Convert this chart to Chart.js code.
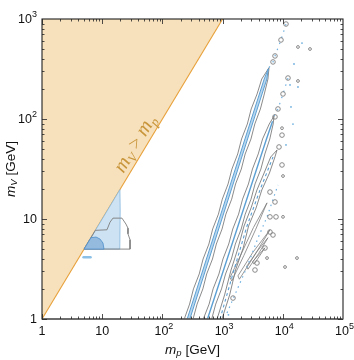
<!DOCTYPE html>
<html>
<head>
<meta charset="utf-8">
<script src="https://cdn.jsdelivr.net/npm/chart.js@4.4.0/dist/chart.umd.min.js"></script>
<style>
  html, body { margin: 0; padding: 0; background: #fff; }
  canvas { display: block; }
</style>
</head>
<body>
<canvas id="chart" width="354" height="360"></canvas>
<script>
// axis ticks (value, base, exponent)
const xTickValues = [1, 10, 100, 1000, 10000, 100000];
const xTickLabels = [['1', ''], ['10', ''], ['10', '2'], ['10', '3'], ['10', '4'], ['10', '5']];
const yTickValues = [1, 10, 100, 1000];
const yTickLabels = [['1', ''], ['10', ''], ['10', '2'], ['10', '3']];

// m_V = m_p boundary
const excludedEdge = [[1, 1], [1000, 1000]];

// low mass region (m_p, m_V)
const blueRegion = [[5, 5], [19.7, 19.7], [19.9, 12], [19.6, 5], [5, 5]];
const blueCore = [[5, 5], [6.5, 6.5], [7.9, 6.6], [9.2, 6.3], [10.3, 5.75], [10.7, 5], [5, 5]];
const blueSpeck = [[4.9, 4.15], [6.4, 4.15]];
const greyLobe = [[7.7, 7.7], [12, 7.8], [13.5, 9.3], [15.1, 10.2], [21.3, 10.2], [24.8, 8.9],
  [26.8, 8.1], [26.8, 7.1], [29, 6.2], [29, 5], [5, 5], [7.7, 7.7]];

// resonance bands
const bandAOuter = [[231, 1], [283, 1.41], [328, 2.0], [409, 2.82], [474, 3.98], [592, 5.62], [684, 7.94],
  [853, 11.2], [989, 15.8], [1233, 22.4], [1429, 31.6], [1782, 44.7], [2065, 63.1], [2576, 89.1],
  [2985, 126], [3741, 178], [4467, 251], [5900, 326],
  [5662, 251], [4932, 178], [4246, 126], [3428, 89.1], [2958, 63.1], [2371, 44.7], [2046, 31.6],
  [1641, 22.4], [1416, 15.8], [1135, 11.2], [979, 7.94], [787, 5.62], [679, 3.98], [544, 2.82],
  [470, 2.0], [377, 1.41], [323, 1]];
const bandAInner = [[258, 1], [778, 7.94], [2350, 63.1], [4909, 251], [5750, 318],
  [5433, 251], [2600, 63.1], [861, 7.94], [286, 1]];

const bandBOuter = [[478, 1], [597, 1.41], [695, 2.0], [869, 2.82], [1014, 3.98], [1265, 5.62],
  [1476, 7.94], [1845, 11.2], [2148, 15.8], [2685, 22.4], [3133, 31.6], [3908, 44.7], [4613, 63.1],
  [5957, 89.1], [7150, 107],
  [6918, 89.1], [6081, 63.1], [5035, 44.7], [4325, 31.6], [3459, 22.4], [2965, 15.8], [2377, 11.2],
  [2037, 7.94], [1629, 5.62], [1400, 3.98], [1119, 2.82], [959, 2.0], [769, 1.41], [659, 1]];
const bandBInner = [[561, 1], [1734, 7.94], [5358, 63.1], [6761, 95]];

const bandCOuter = [[810, 1], [1079, 1.74], [1380, 3.09], [1807, 5.13], [2270, 8.51], [2972, 12.9],
  [3720, 19.5], [4887, 28.8], [6300, 41.7], [8017, 49],
  [7400, 41.7], [6000, 28.8], [4480, 19.5], [3600, 12.9], [2700, 8.51], [2200, 5.13], [1640, 3.09],
  [1310, 1.74], [975, 1]];
const bandCInner = [[906, 1], [1545, 3.09], [2541, 8.51], [4178, 19.5], [6873, 41.7]];

const bandD = [[1183, 1.15], [2541, 3.31], [3873, 6.46], [5470, 10.5], [8318, 21.9]];
const tailA = [[5900, 326], [6873, 372], [7419, 427], [9333, 617], [11300, 891]];
const tailB = [[7150, 107], [8318, 126], [10080, 178], [12200, 257]];

const stripe1 = [[1420, 2.4], [1330, 2.6], [2050, 4.5], [3250, 8.2], [5470, 14.5], [3550, 7.9], [2250, 4.3], [1420, 2.4]];
const stripe2 = [[1900, 2.5], [1800, 2.7], [3150, 4.6], [6125, 7.8], [3450, 4.4], [1900, 2.5]];
const stripe3 = [[2640, 3.15], [2500, 3.35], [3700, 4.7], [5675, 6.5], [3950, 4.5], [2640, 3.15]];
const stripe4 = [[3300, 3.55], [3150, 3.75], [5058, 5.15], [3400, 3.6], [3300, 3.55]];

// isolated islands
const bigIslands = [[11300, 891], [9333, 617], [7419, 427], [6873, 372], [12200, 257], [10080, 178],
  [8318, 126], [7419, 105], [9700, 69], [8650, 52.5], [9700, 34.7], [6125, 18.6], [7419, 14.8],
  [6125, 10.5], [7710, 10.5], [6125, 7.41], [6873, 6.92], [5058, 5.13], [3725, 3.63], [1489, 1.62], [3451, 3.09]];
const smallIslands = [[17870, 525], [28300, 501], [17870, 240], [9700, 81], [10080, 26.9], [10080, 10.5],
  [5470, 4.07], [17200, 4.07], [10890, 3.31]];
const blueDots = [[20840, 575], [15350, 355], [13180, 219], [17870, 209], [13680, 132], [14760, 89],
  [11300, 55], [1250, 1.1]];

const pts = arr => arr.map(([x, y]) => ({ x, y }));

function lineSet(arr, opts) {
  return Object.assign({
    data: pts(arr), showLine: true, pointRadius: 0, borderWidth: 0.9,
    borderColor: '#7d7d7d', fill: false, tension: 0, order: 5
  }, opts);
}

const GREY = '#7d7d7d';
const BLUE = '#5b9fd3';
const LIGHTBLUE = '#6fb0e0';

const datasets = [
  lineSet(excludedEdge, { borderColor: '#e8a13a', borderWidth: 1.1, fill: 'end', backgroundColor: '#f7e1bd', order: 20 }),
  lineSet(blueRegion, { fill: 'shape', backgroundColor: '#cde2f2', borderColor: '#86b8de', borderWidth: 0.8, order: 9 }),
  lineSet(greyLobe, { borderColor: GREY, order: 8 }),
  lineSet(blueCore, { fill: 'shape', backgroundColor: '#94badd', borderColor: '#4d8ecb', borderWidth: 0.8, order: 7 }),
  lineSet(blueSpeck, { borderColor: '#8cc0e6', borderWidth: 2.5, borderCapStyle: 'round', order: 7 }),
  lineSet(bandAOuter, {}),
  lineSet(bandAInner, { fill: 'shape', backgroundColor: '#b9d7ee', borderColor: BLUE, borderWidth: 1, order: 4 }),
  lineSet(bandBOuter, {}),
  lineSet(bandBInner, { borderColor: BLUE, borderWidth: 1.4, order: 4 }),
  lineSet(bandCOuter, {}),
  lineSet(bandCInner, { borderColor: BLUE, borderWidth: 1.1, borderDash: [3, 3], order: 4 }),
  lineSet(bandD, { borderColor: LIGHTBLUE, borderWidth: 1.2, borderDash: [1.5, 4], order: 4 }),
  lineSet(tailA, { borderColor: LIGHTBLUE, borderWidth: 1.2, borderDash: [1.5, 5], order: 4 }),
  lineSet(tailB, { borderColor: LIGHTBLUE, borderWidth: 1.2, borderDash: [1.5, 5], order: 4 }),
  lineSet(stripe1, { borderWidth: 0.8 }),
  lineSet(stripe2, { borderWidth: 0.8 }),
  lineSet(stripe3, { borderWidth: 0.8 }),
  lineSet(stripe4, { borderWidth: 0.8 }),
  { data: pts(bigIslands), showLine: false, pointRadius: 2.3, pointBorderWidth: 0.9,
    pointBorderColor: GREY, pointBackgroundColor: 'rgba(255,255,255,0)', order: 3 },
  { data: pts(smallIslands), showLine: false, pointRadius: 1.4, pointBorderWidth: 0.9,
    pointBorderColor: GREY, pointBackgroundColor: 'rgba(255,255,255,0)', order: 3 },
  { data: pts(blueDots), showLine: false, pointRadius: 0.9, pointBorderWidth: 0,
    pointBackgroundColor: LIGHTBLUE, order: 3 }
];

// rich text: segments {t, it, sz, dy}
function richWidth(ctx, segs, family) {
  let w = 0;
  for (const s of segs) {
    ctx.font = (s.it ? 'italic ' : '') + s.sz + 'px ' + family;
    w += ctx.measureText(s.t).width;
  }
  return w;
}
function drawRich(ctx, segs, family, x, y) {
  let cx = x;
  for (const s of segs) {
    ctx.font = (s.it ? 'italic ' : '') + s.sz + 'px ' + family;
    ctx.fillText(s.t, cx, y + (s.dy || 0));
    cx += ctx.measureText(s.t).width;
  }
}

const decorations = {
  id: 'decorations',
  afterDatasetsDraw(chart) {
    const { ctx, chartArea: a, scales: { x, y } } = chart;
    ctx.save();

    // frame
    ctx.strokeStyle = '#222';
    ctx.lineWidth = 1.1;
    ctx.strokeRect(a.left, a.top, a.right - a.left, a.bottom - a.top);
    ctx.strokeStyle = '#666';
    ctx.lineWidth = 1.6;
    ctx.beginPath();
    ctx.moveTo(a.left, a.bottom); ctx.lineTo(a.right, a.bottom);
    ctx.stroke();

    // inward ticks on all sides
    ctx.strokeStyle = '#222';
    ctx.lineWidth = 0.8;
    ctx.beginPath();
    for (let k = 0; k < 5; k++) {
      for (let m = 1; m < 10; m++) {
        const px = Math.round(x.getPixelForValue(m * Math.pow(10, k))) + 0.5;
        const len = m === 1 ? 5 : 2.5;
        ctx.moveTo(px, a.bottom); ctx.lineTo(px, a.bottom - len);
        ctx.moveTo(px, a.top); ctx.lineTo(px, a.top + len);
      }
    }
    for (let k = 0; k < 3; k++) {
      for (let m = 1; m < 10; m++) {
        const py = Math.round(y.getPixelForValue(m * Math.pow(10, k))) + 0.5;
        const len = m === 1 ? 5 : 2.5;
        ctx.moveTo(a.left, py); ctx.lineTo(a.left + len, py);
        ctx.moveTo(a.right, py); ctx.lineTo(a.right - len, py);
      }
    }
    ctx.stroke();

    // tick labels
    const fam = '"Liberation Sans", Arial, sans-serif';
    ctx.fillStyle = '#111';
    ctx.textBaseline = 'middle';
    ctx.textAlign = 'left';
    xTickValues.forEach((v, i) => {
      const [b, e] = xTickLabels[i];
      const segs = [{ t: b, sz: 12.5 }];
      if (e) segs.push({ t: e, sz: 9, dy: -5 });
      const w = richWidth(ctx, segs, fam);
      drawRich(ctx, segs, fam, x.getPixelForValue(v) - w / 2 + (e ? 1.5 : 0), a.bottom + 13);
    });
    yTickValues.forEach((v, i) => {
      const [b, e] = yTickLabels[i];
      const segs = [{ t: b, sz: 12.5 }];
      if (e) segs.push({ t: e, sz: 9, dy: -5 });
      const w = richWidth(ctx, segs, fam);
      drawRich(ctx, segs, fam, a.left - 5 - w, y.getPixelForValue(v) + 1);
    });

    // axis titles
    const xt = [{ t: 'm', it: true, sz: 13.5 }, { t: 'p', it: true, sz: 9.5, dy: 3 }, { t: ' [GeV]', sz: 13.5 }];
    const xw = richWidth(ctx, xt, fam);
    drawRich(ctx, xt, fam, (a.left + a.right) / 2 - xw / 2, a.bottom + 31);

    const yt = [{ t: 'm', it: true, sz: 13.5 }, { t: 'V', it: true, sz: 9.5, dy: 3 }, { t: ' [GeV]', sz: 13.5 }];
    const yw = richWidth(ctx, yt, fam);
    ctx.save();
    ctx.translate(11, (a.top + a.bottom) / 2);
    ctx.rotate(-Math.PI / 2);
    drawRich(ctx, yt, fam, -yw / 2, 0);
    ctx.restore();

    // region label along the boundary
    const p0x = x.getPixelForValue(1), p0y = y.getPixelForValue(1);
    const p1x = x.getPixelForValue(1000), p1y = y.getPixelForValue(1000);
    const ang = Math.atan2(p1y - p0y, p1x - p0x);
    const lx = x.getPixelForValue(50), ly = y.getPixelForValue(50);
    const serif = '"Liberation Serif", "DejaVu Serif", serif';
    const lt = [{ t: 'm', it: true, sz: 20 }, { t: 'V', it: true, sz: 13, dy: 4 }, { t: ' > ', sz: 19 },
      { t: 'm', it: true, sz: 20 }, { t: 'p', it: true, sz: 13, dy: 4 }];
    const lw = richWidth(ctx, lt, serif);
    ctx.save();
    ctx.translate(lx, ly);
    ctx.rotate(ang);
    ctx.fillStyle = '#c8953a';
    ctx.textBaseline = 'alphabetic';
    drawRich(ctx, lt, serif, -lw / 2, -5);
    ctx.restore();

    ctx.restore();
  }
};

new Chart(document.getElementById('chart'), {
  type: 'scatter',
  data: { datasets },
  options: {
    responsive: false,
    animation: false,
    events: [],
    layout: { padding: { left: 42, right: 11, top: 19, bottom: 41 } },
    plugins: { legend: { display: false }, tooltip: { enabled: false } },
    scales: {
      x: { type: 'logarithmic', min: 1, max: 100000, display: false },
      y: { type: 'logarithmic', min: 1, max: 1000, display: false }
    }
  },
  plugins: [decorations]
});
</script>
</body>
</html>
